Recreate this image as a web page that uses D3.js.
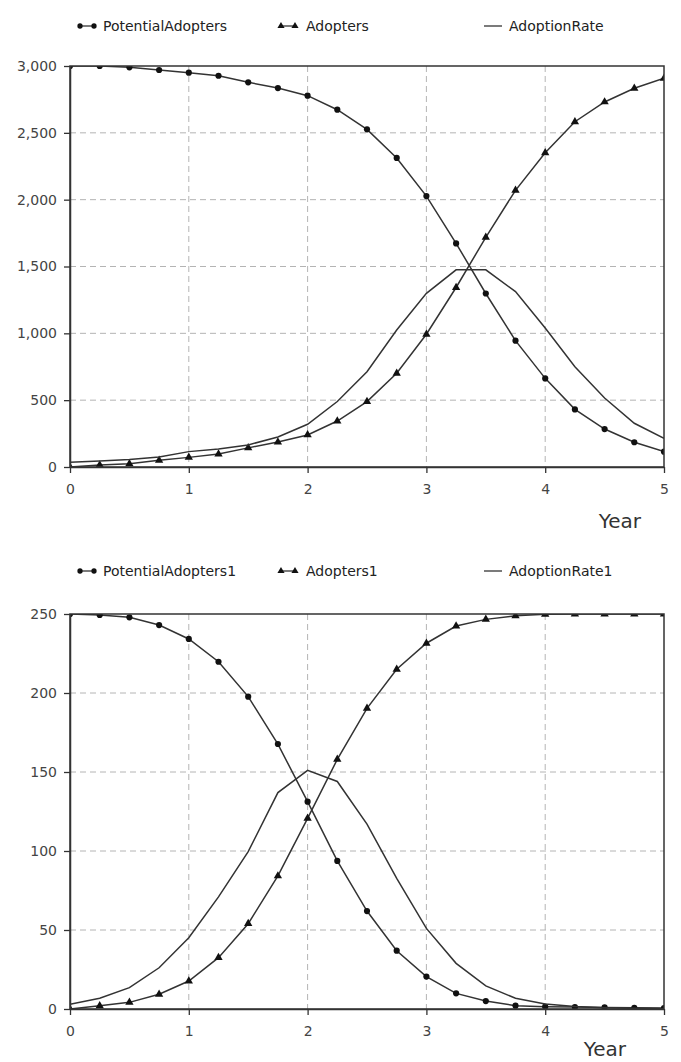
<!DOCTYPE html>
<html>
<head>
<meta charset="utf-8">
<script src="https://cdn.jsdelivr.net/npm/d3@7"></script>
<style>
  body { margin: 0; background: #fff; }
  svg { display: block; font-family: "DejaVu Sans", sans-serif; }
  .tick text { fill: #444; font-size: 14px; }
  .legend text { fill: #222; font-size: 14px; }
  .axis-title { fill: #333; font-size: 20px; }
</style>
</head>
<body>
<div id="chart"></div>
<script>
// time steps (years)
const years = [0, 0.25, 0.5, 0.75, 1, 1.25, 1.5, 1.75, 2, 2.25, 2.5, 2.75, 3, 3.25, 3.5, 3.75, 4, 4.25, 4.5, 4.75, 5];

// top chart
const potentialAdopters = [3000, 3000, 2990, 2970, 2950, 2927, 2878, 2835, 2778, 2673, 2526, 2312, 2027, 1673, 1298, 945, 663, 431, 284, 185, 115];
const adopters = [0, 15, 24, 50, 72, 97, 143, 187, 240, 344, 489, 701, 993, 1343, 1718, 2070, 2351, 2583, 2731, 2833, 2908];
const adoptionRate = [35, 45, 57, 75, 115, 135, 165, 225, 320, 490, 713, 1025, 1299, 1475, 1475, 1312, 1040, 750, 516, 327, 215];

// bottom chart
const potentialAdopters1 = [250, 249.4, 247.9, 243, 234.2, 219.8, 197.7, 167.7, 131.2, 93.7, 62, 36.9, 20.5, 9.9, 5, 2.1, 1.5, 1.2, 1, 0.8, 0.6];
const adopters1 = [0, 2, 4.2, 9.3, 17.7, 32.5, 54, 84.2, 120.7, 158, 190.3, 215, 231.5, 242.4, 246.6, 248.9, 249.8, 250, 250, 250, 250];
const adoptionRate1 = [3, 6.8, 13.5, 26.1, 45.1, 71, 99.6, 137, 151, 144, 117, 82.7, 51, 28.9, 14.6, 6.8, 3.2, 1.6, 0.8, 0.4, 0.2];

const xTicks = [0, 1, 2, 3, 4, 5];
const yTicksTop = [0, 500, 1000, 1500, 2000, 2500, 3000];
const yTicksBottom = [0, 50, 100, 150, 200, 250];

const W = 681, H = 1062;
const svg = d3.select("#chart").append("svg")
    .attr("width", W)
    .attr("height", H);

const ink = "#333";

function drawChart(cfg) {
    const left = 70, right = 664;
    const top = cfg.top, bottom = cfg.bottom;

    const x = d3.scaleLinear().domain([0, 5]).range([left, right]);
    const y = d3.scaleLinear().domain([0, cfg.yMax]).range([bottom, top]);

    const g = svg.append("g");

    // legend
    const lg = g.append("g").attr("class", "legend");
    const ly = cfg.legendY;
    cfg.series.forEach((s, i) => {
        const lx = [78, 279, 484][i];
        if (s.marker) {
            lg.append("line")
                .attr("x1", lx + 2).attr("x2", lx + 16)
                .attr("y1", ly - 5).attr("y2", ly - 5)
                .attr("stroke", ink).attr("stroke-width", 1.3);
            [lx + 2, lx + 16].forEach(mx => {
                lg.append("path")
                    .attr("d", d3.symbol().type(s.marker).size(22)())
                    .attr("transform", `translate(${mx},${ly - 5})`)
                    .attr("fill", "#111");
            });
        } else {
            lg.append("line")
                .attr("x1", lx).attr("x2", lx + 18)
                .attr("y1", ly - 5).attr("y2", ly - 5)
                .attr("stroke", ink).attr("stroke-width", 1.3);
        }
        lg.append("text")
            .attr("x", [103, 306, 509][i])
            .attr("y", ly)
            .text(s.name);
    });

    // grid
    const grid = g.append("g")
        .attr("stroke", "#b4b4b4")
        .attr("stroke-dasharray", "6,4")
        .attr("stroke-width", 1);
    grid.selectAll(".vg")
        .data(xTicks.slice(1, -1))
        .join("line")
        .attr("x1", d => x(d)).attr("x2", d => x(d))
        .attr("y1", top).attr("y2", bottom);
    grid.selectAll(".hg")
        .data(cfg.yTicks.slice(1, -1))
        .join("line")
        .attr("x1", left).attr("x2", right)
        .attr("y1", d => y(d)).attr("y2", d => y(d));

    const clipId = "clip" + cfg.id;
    g.append("clipPath").attr("id", clipId)
        .append("rect")
        .attr("x", left).attr("y", top)
        .attr("width", right - left).attr("height", bottom - top);

    const plot = g.append("g").attr("clip-path", `url(#${clipId})`);
    const line = d3.line().x((d, i) => x(years[i])).y(d => y(d));

    cfg.series.forEach(s => {
        plot.append("path")
            .datum(s.values)
            .attr("fill", "none")
            .attr("stroke", ink)
            .attr("stroke-width", 1.5)
            .attr("d", line);
        if (s.marker) {
            plot.selectAll(null)
                .data(s.values)
                .join("path")
                .attr("d", d3.symbol().type(s.marker).size(30))
                .attr("transform", (d, i) => `translate(${x(years[i])},${y(d)})`)
                .attr("fill", "#111");
        }
    });

    // frame
    g.append("rect")
        .attr("x", left).attr("y", top)
        .attr("width", right - left).attr("height", bottom - top)
        .attr("fill", "none")
        .attr("stroke", ink)
        .attr("stroke-width", 1.5);

    const xAxis = d3.axisBottom(x)
        .tickValues(xTicks)
        .tickFormat(d3.format("d"))
        .tickSize(6)
        .tickSizeOuter(0)
        .tickPadding(11);
    const yAxis = d3.axisLeft(y)
        .tickValues(cfg.yTicks)
        .tickFormat(d3.format(","))
        .tickSize(6)
        .tickSizeOuter(0)
        .tickPadding(7);

    const gx = g.append("g")
        .attr("transform", `translate(0,${bottom})`)
        .call(xAxis);
    const gy = g.append("g")
        .attr("transform", `translate(${left},0)`)
        .call(yAxis);
    [gx, gy].forEach(a => {
        a.select(".domain").attr("stroke", ink).attr("stroke-width", 1.5);
        a.selectAll(".tick line").attr("stroke", ink).attr("stroke-width", 1.3);
        a.attr("font-family", null).attr("font-size", null);
    });

    g.append("text")
        .attr("class", "axis-title")
        .attr("x", cfg.titleX)
        .attr("y", cfg.titleY)
        .attr("text-anchor", "end")
        .text("Year");
}

drawChart({
    id: 1, top: 66, bottom: 467, yMax: 3000, yTicks: yTicksTop,
    legendY: 31, titleX: 641, titleY: 528,
    series: [
        { name: "PotentialAdopters", values: potentialAdopters, marker: d3.symbolCircle },
        { name: "Adopters", values: adopters, marker: d3.symbolTriangle },
        { name: "AdoptionRate", values: adoptionRate, marker: null }
    ]
});

drawChart({
    id: 2, top: 614, bottom: 1009, yMax: 250, yTicks: yTicksBottom,
    legendY: 576, titleX: 626, titleY: 1056,
    series: [
        { name: "PotentialAdopters1", values: potentialAdopters1, marker: d3.symbolCircle },
        { name: "Adopters1", values: adopters1, marker: d3.symbolTriangle },
        { name: "AdoptionRate1", values: adoptionRate1, marker: null }
    ]
});
</script>
</body>
</html>
